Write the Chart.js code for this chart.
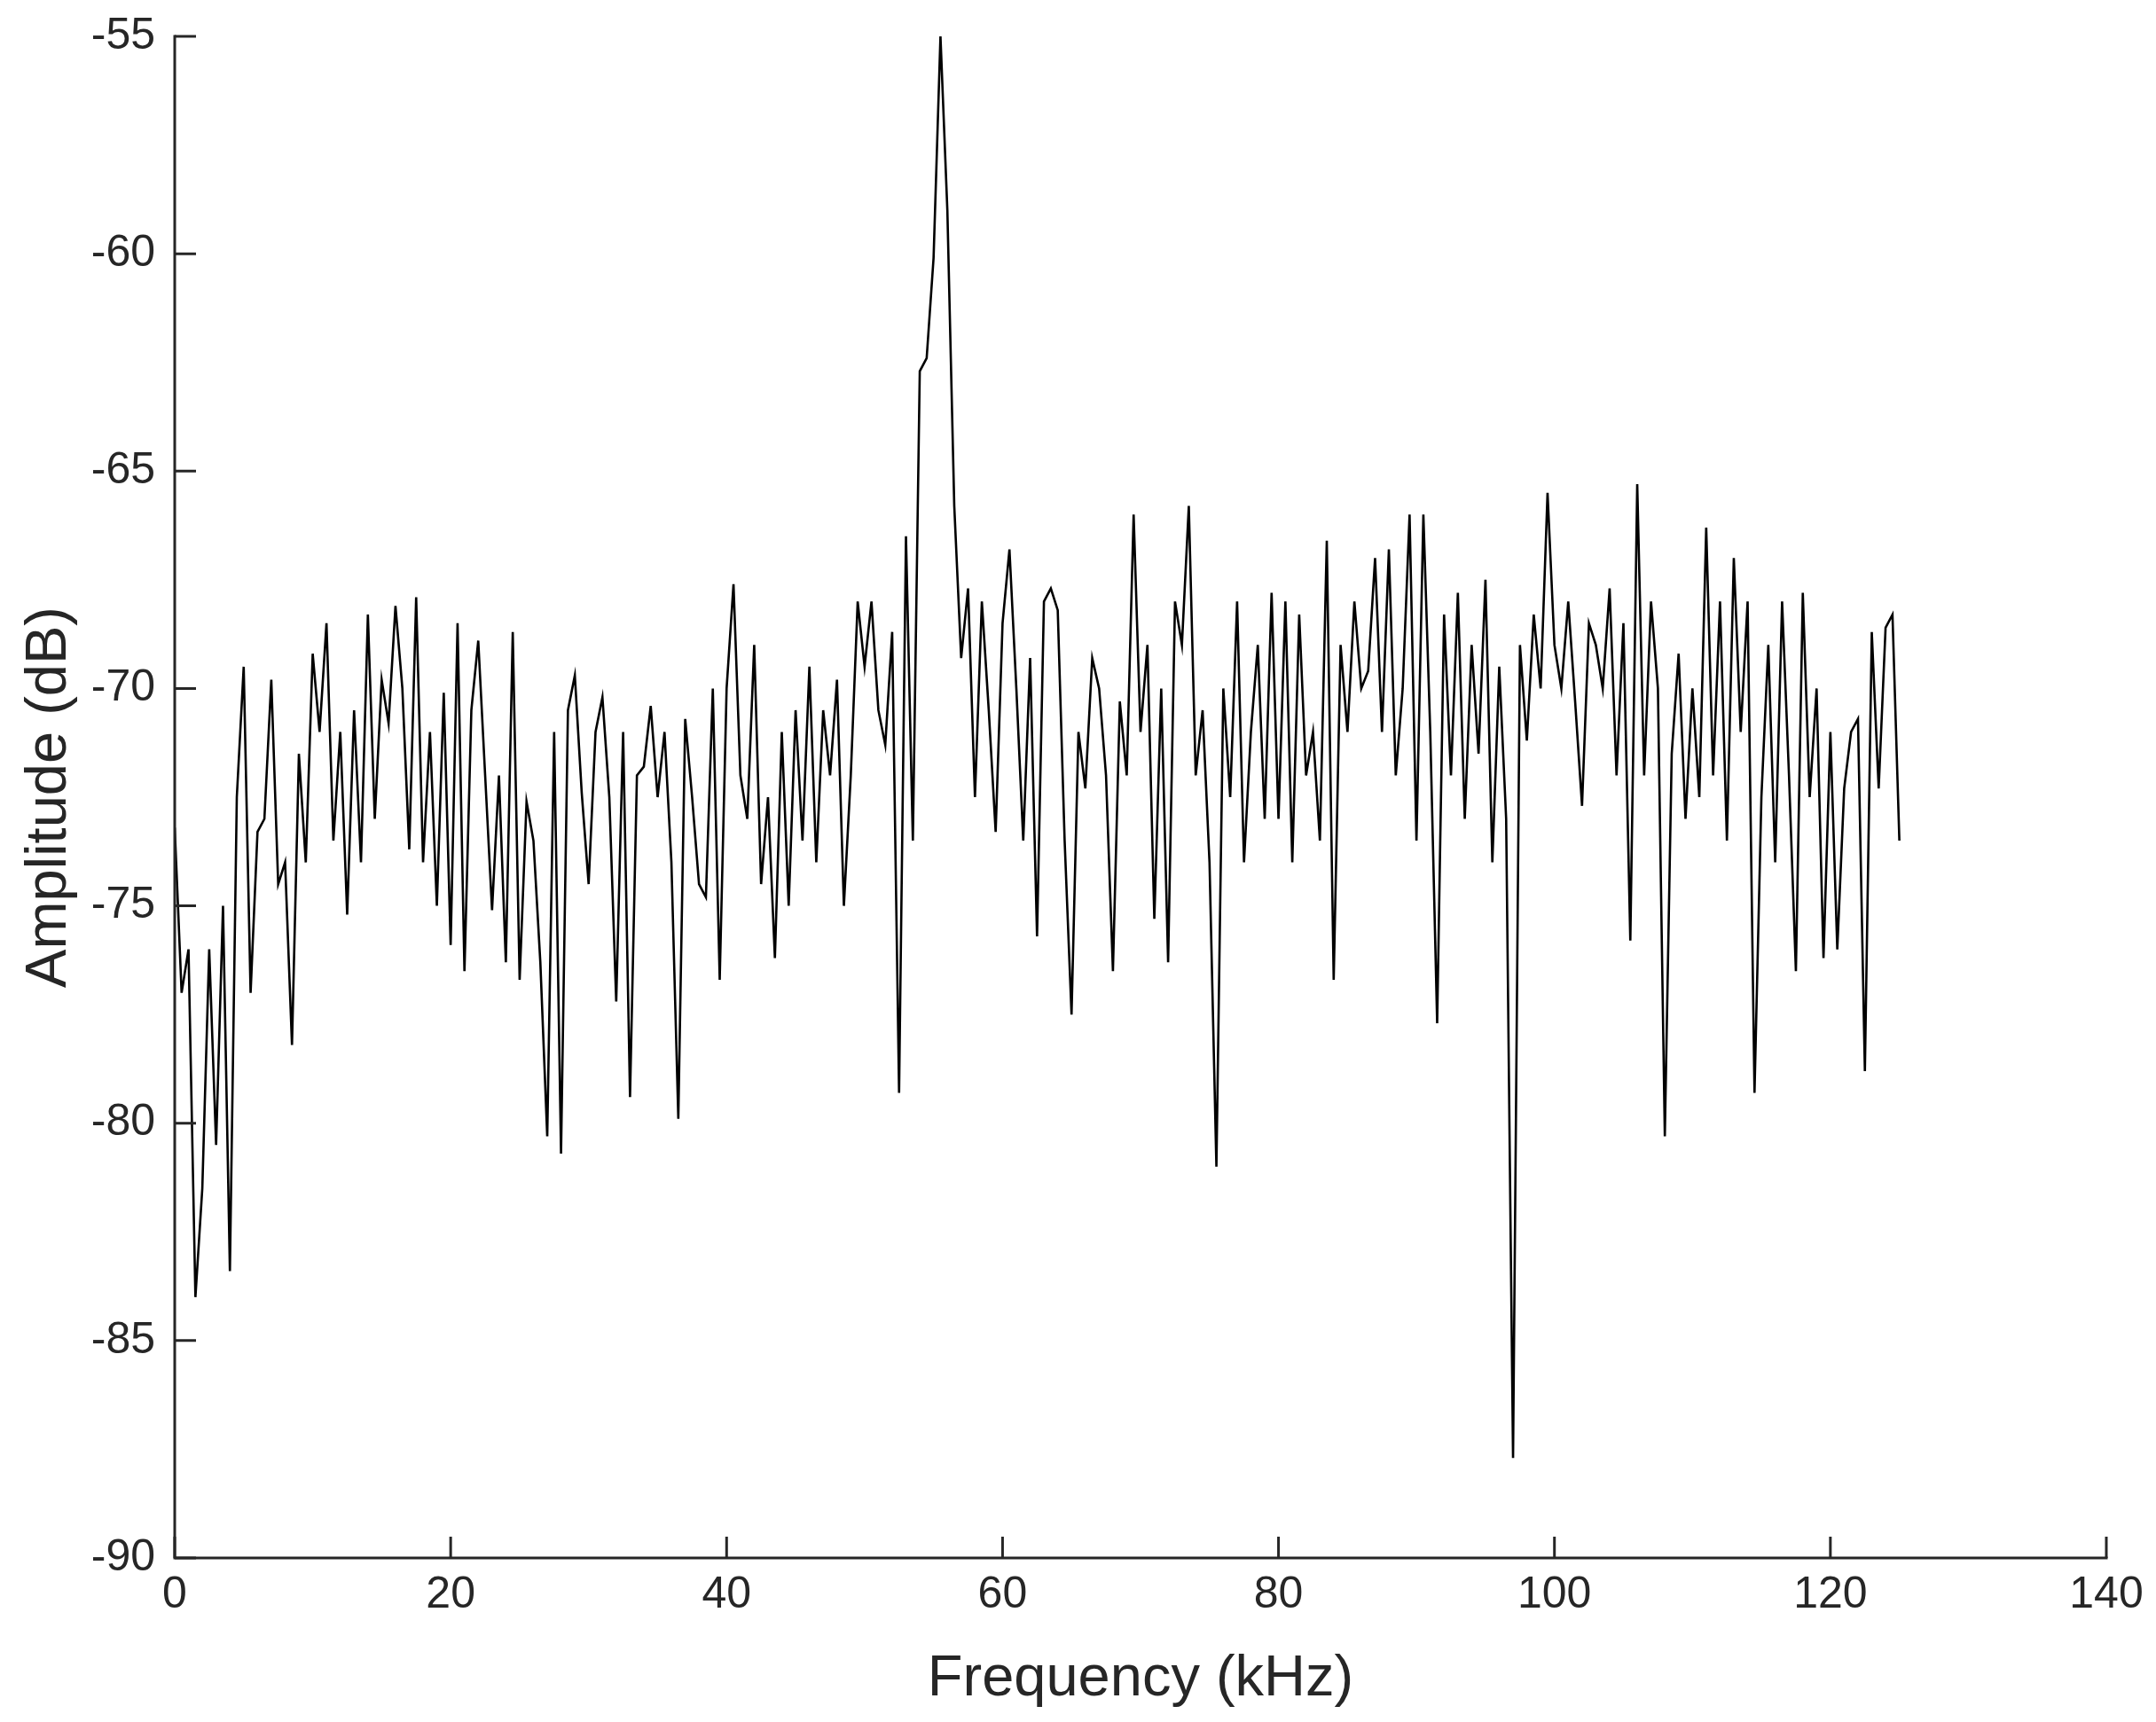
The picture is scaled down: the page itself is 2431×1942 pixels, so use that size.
<!DOCTYPE html>
<html><head><meta charset="utf-8">
<script src="https://cdn.jsdelivr.net/npm/chart.js@4/dist/chart.umd.min.js"></script>
<style>body{margin:0;background:#fff}canvas{display:block}</style>
</head><body>
<canvas id="c" width="2431" height="1942"></canvas>
<script>
const freqStartKHz = 0, freqStepKHz = 0.5;
const amplitudeDb = [
-73.2,-77,-76,-84,-81.5,-76,-80.5,-75,-83.4,-72.5,
-69.5,-77,-73.3,-73,-69.8,-74.5,-74,-78.2,-71.5,-74,
-69.2,-71,-68.5,-73.5,-71,-75.2,-70.5,-74,-68.3,-73,
-69.8,-70.8,-68.1,-70,-73.7,-67.9,-74,-71,-75,-70.1,
-75.9,-68.5,-76.5,-70.5,-68.9,-72,-75.1,-72,-76.3,-68.7,
-76.7,-72.6,-73.5,-76.3,-80.3,-71,-80.7,-70.5,-69.7,-72.4,
-74.5,-71,-70.2,-72.5,-77.2,-71,-79.4,-72,-71.8,-70.4,
-72.5,-71,-74,-79.9,-70.7,-72.5,-74.5,-74.8,-70,-76.7,
-70,-67.6,-72,-73,-69,-74.5,-72.5,-76.2,-71,-75,
-70.5,-73.5,-69.5,-74,-70.5,-72,-69.8,-75,-72,-68,
-69.5,-68,-70.5,-71.3,-68.7,-79.3,-66.5,-73.5,-62.7,-62.4,
-60.1,-55,-59,-65.8,-69.3,-67.7,-72.5,-68,-70.5,-73.3,
-68.5,-66.8,-70,-73.5,-69.3,-75.7,-68,-67.7,-68.2,-73.5,
-77.5,-71,-72.3,-69.3,-70,-72,-76.5,-70.3,-72,-66,
-71,-69,-75.3,-70,-76.3,-68,-69,-65.8,-72,-70.5,
-74,-81,-70,-72.5,-68,-74,-71,-69,-73,-67.8,
-73,-68,-74,-68.3,-72,-71,-73.5,-66.6,-76.7,-69,
-71,-68,-70,-69.6,-67,-71,-66.8,-72,-70,-66,
-73.5,-66,-71,-77.7,-68.3,-72,-67.8,-73,-69,-71.5,
-67.5,-74,-69.5,-73,-87.7,-69,-71.2,-68.3,-70,-65.5,
-69,-70,-68,-70.3,-72.7,-68.5,-69,-70,-67.7,-72,
-68.5,-75.8,-65.3,-72,-68,-70,-80.3,-71.5,-69.2,-73,
-70,-72.5,-66.3,-72,-68,-73.5,-67,-71,-68,-79.3,
-72.5,-69,-74,-68,-72,-76.5,-67.8,-72.5,-70,-76.2,
-71,-76,-72.3,-71,-70.7,-78.8,-68.7,-72.3,-68.6,-68.3,
-73.5];
const xTicks = [0,20,40,60,80,100,120,140];
const yTicks = [-90,-85,-80,-75,-70,-65,-60,-55];
const xTitle = 'Frequency (kHz)', yTitle = 'Amplitude (dB)';
const points = amplitudeDb.map((v,i)=>({x:freqStartKHz+i*freqStepKHz,y:v}));
const FONT = "'Liberation Sans', Arial, sans-serif";
const C = '#262626';
const axesPlugin = {
  id:'axesPlugin',
  afterDatasetsDraw(chart){
    const {ctx, chartArea:a, scales:{x,y}} = chart;
    ctx.save(); ctx.strokeStyle=C; ctx.lineWidth=3; ctx.lineCap='square';
    ctx.beginPath();
    ctx.moveTo(a.left,a.top); ctx.lineTo(a.left,a.bottom); ctx.lineTo(a.right,a.bottom);
    ctx.stroke();
    ctx.lineCap='butt'; ctx.beginPath();
    xTicks.forEach(t=>{const p=x.getPixelForValue(t); ctx.moveTo(p,a.bottom); ctx.lineTo(p,a.bottom-24);});
    yTicks.forEach(t=>{const p=y.getPixelForValue(t); ctx.moveTo(a.left,p); ctx.lineTo(a.left+24,p);});
    ctx.stroke();
    ctx.fillStyle=C; ctx.font='50px '+FONT;
    ctx.textAlign='center'; ctx.textBaseline='alphabetic';
    xTicks.forEach(t=>ctx.fillText(String(t), x.getPixelForValue(t), a.bottom+56));
    ctx.textAlign='right'; ctx.textBaseline='middle';
    yTicks.forEach(t=>ctx.fillText(String(t), a.left-22, y.getPixelForValue(t)));
    ctx.font='65px '+FONT; ctx.textAlign='center'; ctx.textBaseline='alphabetic';
    ctx.fillText(xTitle, (a.left+a.right)/2, 1912);
    ctx.translate(74,(a.top+a.bottom)/2); ctx.rotate(-Math.PI/2);
    ctx.fillText(yTitle, 0, 0);
    ctx.restore();
  }
};
new Chart(document.getElementById('c'),{
  type:'line',
  data:{datasets:[{data:points,borderColor:'#000',borderWidth:2.6,pointRadius:0,tension:0,fill:false}]},
  options:{
    responsive:false,animation:false,devicePixelRatio:1,
    layout:{padding:{top:41,right:56,left:0,bottom:0}},
    plugins:{legend:{display:false},tooltip:{enabled:false}},
    scales:{
      x:{type:'linear',min:0,max:140,
        afterBuildTicks(s){s.ticks=xTicks.map(v=>({value:v}));},
        afterFit(s){s.height=185;},
        grid:{display:false},border:{display:false},ticks:{display:false}},
      y:{type:'linear',min:-90,max:-55,
        afterBuildTicks(s){s.ticks=yTicks.map(v=>({value:v}));},
        afterFit(s){s.width=197;},
        grid:{display:false},border:{display:false},ticks:{display:false}}
    }
  },
  plugins:[axesPlugin]
});
</script>
</body></html>
